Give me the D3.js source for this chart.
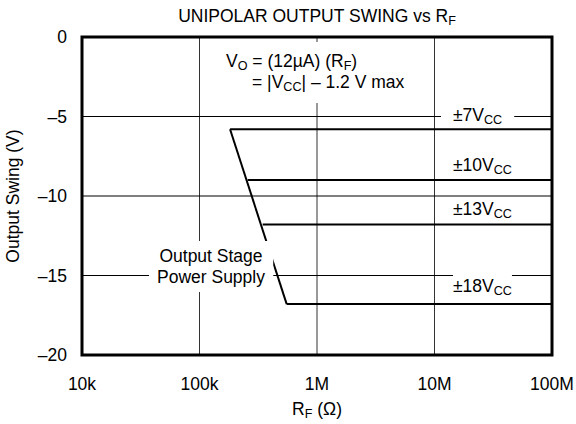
<!DOCTYPE html>
<html>
<head>
<meta charset="utf-8">
<script src="https://cdn.jsdelivr.net/npm/d3@7"></script>
<style>
  body { margin: 0; background: #fff; }
  svg { display: block; font-family: "Liberation Sans", Arial, sans-serif; }
</style>
</head>
<body>
<div id="chart"></div>
<script>
// Data
const xTicks = [1e4, 1e5, 1e6, 1e7, 1e8];
const xTickLabels = ["10k", "100k", "1M", "10M", "100M"];
const yTicks = [0, -5, -10, -15, -20];
const yTickLabels = ["0", "\u20135", "\u201310", "\u201315", "\u201320"];

// supply curves: swing level and where the flat part starts
const supplies = ["\u00b17", "\u00b110", "\u00b113", "\u00b118"];
const swing = [-5.8, -9.0, -11.8, -16.8];
const startR = [182e3, 257e3, 345e3, 552e3];
const endR = 1e8;

// the sloped "output stage power supply" limit
const slopeR = [182e3, 552e3];
const slopeV = [-5.8, -16.8];

const width = 576, height = 424;
const margin = { top: 37, right: 24, bottom: 69, left: 82 };
const fontSize = 17.5;
const subSize = fontSize * 0.72;
const subShift = 3;

const svg = d3.select("#chart").append("svg")
  .attr("width", width)
  .attr("height", height);

const x = d3.scaleLog()
  .domain([1e4, 1e8])
  .range([margin.left, width - margin.right]);

const y = d3.scaleLinear()
  .domain([0, -20])
  .range([margin.top, height - margin.bottom]);

// Gridlines
svg.append("g")
  .selectAll("line")
  .data(xTicks.slice(1, -1))
  .enter().append("line")
  .attr("x1", d => x(d)).attr("x2", d => x(d))
  .attr("y1", y(0)).attr("y2", y(-20))
  .attr("stroke", "#333").attr("stroke-width", 1);

svg.append("g")
  .selectAll("line")
  .data(yTicks.slice(1, -1))
  .enter().append("line")
  .attr("x1", x(1e4)).attr("x2", x(1e8))
  .attr("y1", d => y(d)).attr("y2", d => y(d))
  .attr("stroke", "#000").attr("stroke-width", 1);

// Text labels with white backgrounds (they cut the gridlines)
function label(lines, px, py, lineGap, padX, padY, anchor) {
  const g = svg.append("g");
  const bg = g.append("rect").attr("fill", "#fff");
  const t = g.append("text")
    .attr("font-size", fontSize)
    .attr("fill", "#000");
  lines.forEach((parts, i) => {
    const line = t.append("tspan")
      .attr("x", px[i])
      .attr("y", py + i * lineGap)
      .attr("text-anchor", anchor || "start");
    parts.forEach(p => {
      const s = line.append("tspan").text(p.t);
      if (p.sub) {
        s.attr("font-size", subSize).attr("dy", subShift);
      } else if (p.back) {
        s.attr("dy", -subShift);
      }
    });
  });
  const b = t.node().getBBox();
  bg.attr("x", b.x - padX).attr("y", b.y - padY)
    .attr("width", b.width + 2 * padX).attr("height", b.height + 2 * padY);
  return g;
}

// Sloped limit line
svg.append("path")
  .datum(slopeR.map((r, i) => [r, slopeV[i]]))
  .attr("d", d3.line().x(d => x(d[0])).y(d => y(d[1])))
  .attr("fill", "none").attr("stroke", "#000").attr("stroke-width", 2);

// Flat supply lines
svg.append("g")
  .selectAll("line")
  .data(supplies)
  .enter().append("line")
  .attr("x1", (d, i) => x(startR[i])).attr("x2", x(endR))
  .attr("y1", (d, i) => y(swing[i])).attr("y2", (d, i) => y(swing[i]))
  .attr("stroke", "#000").attr("stroke-width", 2);

// Supply labels
const labelY = [121, 171, 215, 292];
supplies.forEach((s, i) => {
  label([[{ t: s + "V" }, { t: "CC", sub: true }]], [453], labelY[i], 0, i === 0 ? 12 : 0, 1);
});

// Equation annotation
label([
  [{ t: "V" }, { t: "O", sub: true }, { t: " = (12\u00b5A) (R", back: true }, { t: "F", sub: true }, { t: ")", back: true }],
  [{ t: "= |V" }, { t: "CC", sub: true }, { t: "| \u2013 1.2 V max", back: true }]
], [226, 252], 67, 21, 8, 9);

// Output stage label
label([
  [{ t: "Output Stage" }],
  [{ t: "Power Supply" }]
], [211, 211], 262, 21, 8, 5, "middle");

// Frame
svg.append("rect")
  .attr("x", x(1e4)).attr("y", y(0))
  .attr("width", x(1e8) - x(1e4)).attr("height", y(-20) - y(0))
  .attr("fill", "none").attr("stroke", "#000").attr("stroke-width", 3);

// Tick labels
svg.append("g")
  .selectAll("text")
  .data(xTicks)
  .enter().append("text")
  .attr("x", d => x(d)).attr("y", 390)
  .attr("text-anchor", "middle")
  .attr("font-size", fontSize)
  .text((d, i) => xTickLabels[i]);

svg.append("g")
  .selectAll("text")
  .data(yTicks)
  .enter().append("text")
  .attr("x", 67).attr("y", d => y(d))
  .attr("dy", "0.35em")
  .attr("text-anchor", "end")
  .attr("font-size", fontSize)
  .text((d, i) => yTickLabels[i]);

// Title
const title = svg.append("text")
  .attr("x", 317).attr("y", 22)
  .attr("text-anchor", "middle")
  .attr("font-size", fontSize);
title.append("tspan").text("UNIPOLAR OUTPUT SWING vs R");
title.append("tspan").text("F").attr("font-size", subSize).attr("dy", subShift);

// Axis titles
const xTitle = svg.append("text")
  .attr("x", 317).attr("y", 415)
  .attr("text-anchor", "middle")
  .attr("font-size", fontSize);
xTitle.append("tspan").text("R");
xTitle.append("tspan").text("F").attr("font-size", subSize).attr("dy", subShift);
xTitle.append("tspan").text(" (\u03a9)").attr("dy", -subShift);

svg.append("text")
  .attr("transform", "translate(19,196) rotate(-90)")
  .attr("text-anchor", "middle")
  .attr("font-size", fontSize)
  .text("Output Swing (V)");
</script>
</body>
</html>
